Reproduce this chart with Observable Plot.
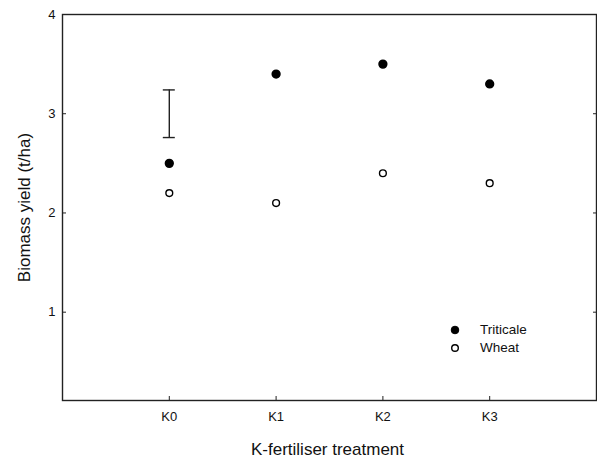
<!DOCTYPE html>
<html><head><meta charset="utf-8">
<script src="https://cdn.jsdelivr.net/npm/d3@7"></script>
<script src="https://cdn.jsdelivr.net/npm/@observablehq/plot@0.6"></script>
<style>
body{margin:0;background:#fff;font-family:"Liberation Sans",Arial,sans-serif;}
#wrap{position:relative;width:597px;height:459px;}
#legend{position:absolute;left:450px;top:321px;font-size:13.5px;color:#111;line-height:18px;}
#legend div{display:flex;align-items:center;}
#legend svg{margin-right:20px;}
</style></head><body>
<div id="wrap"><div id="chart"></div>
<div id="legend">
<div><svg width="10" height="10"><circle cx="5" cy="5" r="3.8" fill="#000" stroke="#000"/></svg>Triticale</div>
<div><svg width="10" height="10"><circle cx="5" cy="5" r="3.3" fill="#fff" stroke="#000" stroke-width="1.4"/></svg>Wheat</div>
</div></div>
<script>
const treatments = ["K0", "K1", "K2", "K3"];
const triticale = [2.5, 3.4, 3.5, 3.3];
const wheat = [2.2, 2.1, 2.4, 2.3];
const errLow = 2.76, errHigh = 3.24;   // error bar at K0
const yTicks = [1, 2, 3, 4];

const rows = [];
treatments.forEach((t, i) => {
  rows.push({i, t, v: triticale[i], s: "Triticale"});
  rows.push({i, t, v: wheat[i], s: "Wheat"});
});
const errData = [{i: 0, lo: errLow, hi: errHigh}];

const chart = Plot.plot({
  width: 597, height: 459,
  marginLeft: 62, marginRight: 1, marginTop: 14, marginBottom: 59,
  style: {fontFamily: "Liberation Sans, Arial, sans-serif", fontSize: "13px", color: "#111"},
  x: {type: "linear", domain: [-1, 4]},
  y: {type: "linear", domain: [0.11, 4]},
  marks: [
    Plot.frame({stroke: "#222", strokeWidth: 1.4}),
    Plot.axisY({ticks: yTicks, tickSize: -4, tickPadding: 11, tickFormat: d => d, label: null, stroke: "#222", fontSize: 13}),
    Plot.axisY({anchor: "right", ticks: yTicks, tickSize: -4, tickFormat: () => "", label: null, stroke: "#222"}),
    Plot.axisX({ticks: [0, 1, 2, 3], tickSize: -4, tickPadding: 15, tickFormat: d => treatments[d], label: null, stroke: "#222", fontSize: 13}),
    Plot.text(["Biomass yield (t/ha)"], {frameAnchor: "left", rotate: -90, textAnchor: "middle", dx: -38, fontSize: 17}),
    Plot.text(["K-fertiliser treatment"], {frameAnchor: "bottom", textAnchor: "middle", lineAnchor: "middle", dy: 49, dx: -2, fontSize: 17}),
    Plot.ruleX(errData, {x: "i", y1: "lo", y2: "hi", stroke: "#222", strokeWidth: 1.4}),
    Plot.ruleY(errData, {y: "lo", x1: "i", x2: "i", insetLeft: -6, insetRight: -6, stroke: "#222", strokeWidth: 1.4}),
    Plot.ruleY(errData, {y: "hi", x1: "i", x2: "i", insetLeft: -6, insetRight: -6, stroke: "#222", strokeWidth: 1.4}),
    Plot.dot(rows.filter(d => d.s === "Triticale"), {x: "i", y: "v", r: 3.9, fill: "#000", stroke: "#000"}),
    Plot.dot(rows.filter(d => d.s === "Wheat"), {x: "i", y: "v", r: 3.4, fill: "#fff", stroke: "#000", strokeWidth: 1.4})
  ]
});
document.getElementById("chart").append(chart);
</script>
</body></html>
